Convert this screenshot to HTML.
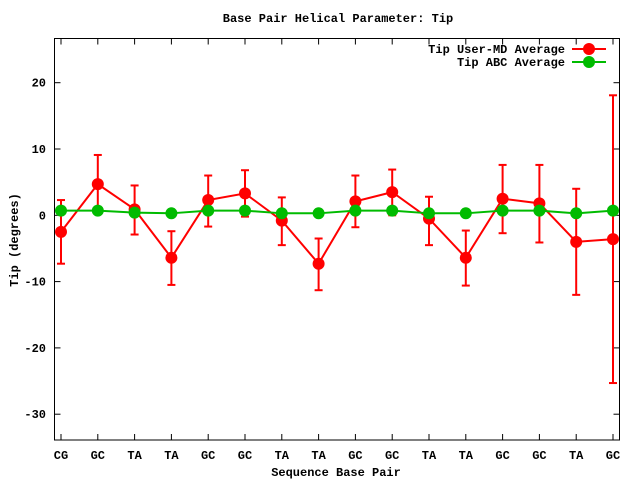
<!DOCTYPE html>
<html><head><style>body{margin:0;background:#fff}svg{display:block}text{font-family:"Liberation Mono",monospace;font-weight:bold;font-size:12px;fill:#000}</style></head>
<body>
<svg id="s" width="640" height="480" xmlns="http://www.w3.org/2000/svg">
<rect x="54.5" y="38.5" width="565" height="401.5" fill="none" stroke="#000" stroke-width="1"/>
<text x="338" y="22" text-anchor="middle">Base Pair Helical Parameter: Tip</text>
<text x="336" y="476" text-anchor="middle">Sequence Base Pair</text>
<text transform="translate(18,240) rotate(-90)" text-anchor="middle">Tip (degrees)</text>
<g id="ax"></g>
<g id="data"></g>
<text x="565" y="53" text-anchor="end">Tip User-MD Average</text>
<text x="565" y="66" text-anchor="end">Tip ABC Average</text>
<line x1="572" y1="49" x2="606" y2="49" stroke="#f00" stroke-width="2"/>
<circle cx="589" cy="49" r="6" fill="#f00"/>
<line x1="572" y1="62" x2="606" y2="62" stroke="#0b0" stroke-width="2"/>
<circle cx="589" cy="62" r="6" fill="#0b0"/>
</svg>
<script>
var ns="http://www.w3.org/2000/svg";
function el(p,t,a,txt){var e=document.createElementNS(ns,t);for(var k in a)e.setAttribute(k,a[k]);if(txt!=null)e.textContent=txt;p.appendChild(e);return e;}
function Y(v){return 215.3-v*6.63;}
function X(i){return 61+i*36.8;}
var ax=document.getElementById('ax');
[20,10,0,-10,-20,-30].forEach(function(v){var y=Y(v);
el(ax,'line',{x1:54.5,y1:y,x2:60.5,y2:y,stroke:'#000'});
el(ax,'line',{x1:613.5,y1:y,x2:619.5,y2:y,stroke:'#000'});
el(ax,'text',{x:46,y:y+4,'text-anchor':'end'},String(v));});
var labs="CG GC TA TA GC GC TA TA GC GC TA TA GC GC TA GC".split(" ");
labs.forEach(function(l,i){var x=X(i);
el(ax,'line',{x1:x,y1:440,x2:x,y2:434,stroke:'#000'});
el(ax,'line',{x1:x,y1:38.5,x2:x,y2:44.5,stroke:'#000'});
el(ax,'text',{x:x,y:459,'text-anchor':'middle'},l);});
var red=[[-2.5,2.3,-7.3],[4.7,9.1,0.2],[0.9,4.5,-2.9],[-6.4,-2.4,-10.5],[2.3,6.0,-1.7],[3.3,6.8,-0.2],[-0.8,2.7,-4.5],[-7.3,-3.5,-11.3],[2.1,6.0,-1.8],[3.5,6.9,0],[-0.5,2.8,-4.5],[-6.4,-2.3,-10.6],[2.5,7.6,-2.7],[1.8,7.6,-4.1],[-4.0,4.0,-12.0],[-3.6,18.1,-25.3]];
var grn=[0.7,0.7,0.4,0.3,0.7,0.7,0.3,0.3,0.7,0.7,0.3,0.3,0.7,0.7,0.3,0.7];
var d=document.getElementById('data');
red.forEach(function(r,i){var x=X(i);
el(d,'line',{x1:x,y1:Y(r[1]),x2:x,y2:Y(r[2]),stroke:'#f00','stroke-width':2});
el(d,'line',{x1:x-4,y1:Y(r[1]),x2:x+4,y2:Y(r[1]),stroke:'#f00','stroke-width':2});
el(d,'line',{x1:x-4,y1:Y(r[2]),x2:x+4,y2:Y(r[2]),stroke:'#f00','stroke-width':2});});
el(d,'polyline',{points:red.map(function(r,i){return X(i)+','+Y(r[0]);}).join(' '),fill:'none',stroke:'#f00','stroke-width':2});
red.forEach(function(r,i){el(d,'circle',{cx:X(i),cy:Y(r[0]),r:6,fill:'#f00'});});
el(d,'polyline',{points:grn.map(function(v,i){return X(i)+','+Y(v);}).join(' '),fill:'none',stroke:'#0b0','stroke-width':2});
grn.forEach(function(v,i){el(d,'circle',{cx:X(i),cy:Y(v),r:6,fill:'#0b0'});});
</script>
</body></html>
